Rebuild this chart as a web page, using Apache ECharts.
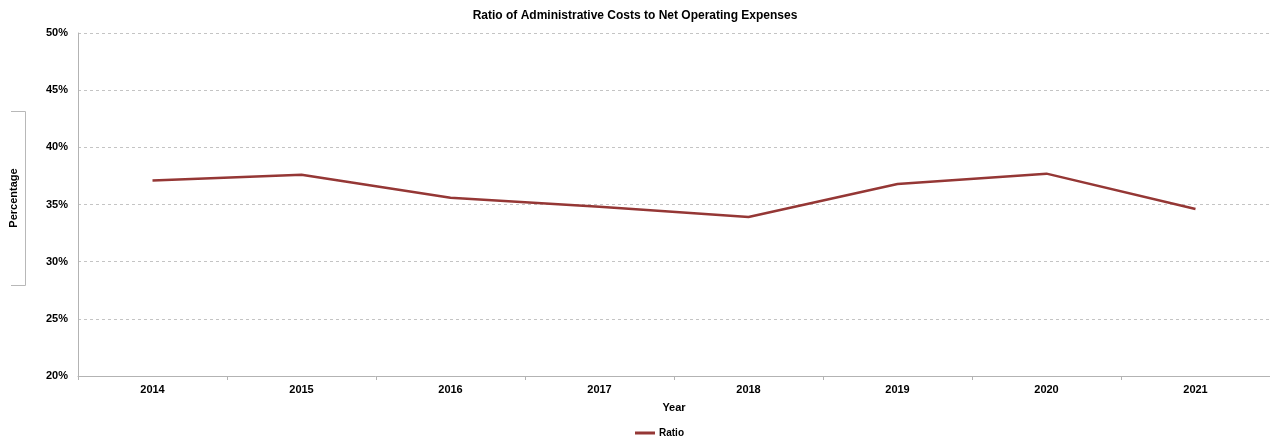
<!DOCTYPE html>
<html>
<head>
<meta charset="utf-8">
<script src="https://cdn.jsdelivr.net/npm/echarts@6/dist/echarts.min.js"></script>
<style>
  html, body { margin: 0; padding: 0; background: #fff; }
  #chart { width: 1270px; height: 440px; }
</style>
</head>
<body>
<div id="chart"></div>
<script>
// data
var years = ['2014', '2015', '2016', '2017', '2018', '2019', '2020', '2021'];
var ratio = [37.1, 37.6, 35.6, 34.8, 33.9, 36.8, 37.7, 34.6];
var yTicks = [20, 25, 30, 35, 40, 45, 50];

var chart = echarts.init(document.getElementById('chart'));
var font = 'Liberation Sans, Arial, sans-serif';

var option = {
    animation: false,
    textStyle: { fontFamily: font },
    title: {
        text: 'Ratio of Administrative Costs to Net Operating Expenses',
        left: 'center',
        top: 5,
        textStyle: { fontSize: 12, fontWeight: 'bold', color: '#000', fontFamily: font }
    },
    legend: {
        data: ['Ratio'],
        bottom: -3,
        left: 630,
        itemWidth: 20,
        itemHeight: 3,
        icon: 'rect',
        itemGap: 2,
        textStyle: { fontSize: 10, fontWeight: 'bold', color: '#000', padding: [0, 0, 0, -1] }
    },
    // y axis title with its open-sided frame, as in the original
    graphic: [
        {
            type: 'text',
            x: 14,
            y: 198,
            rotation: Math.PI / 2,
            style: {
                text: 'Percentage',
                fontSize: 11,
                fontWeight: 'bold',
                fontFamily: font,
                fill: '#000',
                align: 'center',
                verticalAlign: 'middle'
            }
        },
        {
            type: 'polyline',
            shape: { points: [[11, 111.5], [25.5, 111.5], [25.5, 285.5], [11, 285.5]] },
            style: { stroke: '#b8b8b8', lineWidth: 1, fill: null }
        }
    ],
    grid: { left: 78, right: 0, top: 33, bottom: 64, containLabel: false },
    xAxis: {
        type: 'category',
        data: years,
        name: 'Year',
        nameLocation: 'middle',
        nameGap: 26,
        nameTextStyle: { fontSize: 11, fontWeight: 'bold', color: '#000' },
        axisLine: { lineStyle: { color: '#b3b3b3', width: 1 } },
        axisTick: { show: true, length: 4, lineStyle: { color: '#b3b3b3' } },
        axisLabel: { fontSize: 11, fontWeight: 'bold', color: '#000', margin: 8 },
        splitLine: { show: false }
    },
    yAxis: {
        type: 'value',
        min: yTicks[0],
        max: yTicks[yTicks.length - 1],
        interval: 5,
        axisLine: { show: true, lineStyle: { color: '#b3b3b3', width: 1 } },
        axisTick: { show: false },
        axisLabel: {
            fontSize: 11, fontWeight: 'bold', color: '#000', margin: 10,
            formatter: function (v) { return v + '%'; }
        },
        splitLine: { lineStyle: { color: '#c4c4c4', type: [3, 3], width: 1 } }
    },
    series: [{
        name: 'Ratio',
        type: 'line',
        data: ratio,
        symbol: 'none',
        lineStyle: { color: '#953735', width: 2.5 },
        itemStyle: { color: '#953735' }
    }]
};

chart.setOption(option);
</script>
</body>
</html>
